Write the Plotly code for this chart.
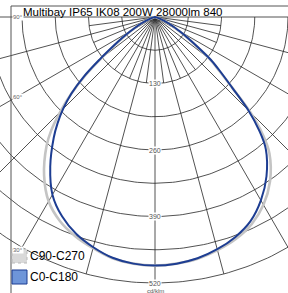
import numpy as np
import plotly.graph_objects as go

# ---- data (cd/klm) ----
angles = [0, 5, 10, 15, 20, 25, 30, 35, 40, 42.5, 45, 47.5, 50, 52.5, 55, 57.5, 60, 65, 70, 75, 80, 85, 90]
c0_right = [486, 484, 479, 470, 458, 441, 414, 380, 337, 302, 258, 205, 168, 138, 102, 76, 55, 30, 12, 3, 0, 0, 0]
c0_left = [486, 484, 478, 466, 451, 430, 401, 357, 308, 282, 254, 222, 182, 136, 100, 75, 55, 30, 12, 3, 0, 0, 0]
c90_right = [486, 484, 480, 472, 462, 447, 424, 392, 348, 312, 264, 205, 165, 134, 98, 73, 53, 29, 11, 3, 0, 0, 0]
c90_left = [486, 484, 479, 468, 456, 440, 416, 378, 330, 300, 262, 222, 178, 132, 96, 72, 53, 29, 11, 3, 0, 0, 0]
series_names = ["C90-C270", "C0-C180"]
ring_values = [65, 130, 195, 260, 325, 390, 455, 520]
ring_labels = ["130", "260", "390", "520"]
angle_labels = ["90°", "60°", "30°"]
title = "Multibay IP65 IK08 200W 28000lm 840"
unit = "cd/klm"

W, H = 288, 293
CX, CY = 155, 17          # pixel position of the pole
S = 266 / 520             # pixels per cd/klm


def curve(left, right):
    a = np.array([-x for x in angles[::-1]] + angles[1:], dtype=float)
    r = np.array(left[::-1] + right[1:], dtype=float)
    t = np.radians(a)
    return r * np.sin(t), -r * np.cos(t)


fig = go.Figure()
grid = dict(color="#262626", width=0.8)

# rings
th = np.radians(np.linspace(-90, 90, 181))
for rv in ring_values:
    fig.add_trace(go.Scatter(x=rv * np.sin(th), y=-rv * np.cos(th), mode="lines",
                             line=grid, hoverinfo="skip", showlegend=False))
# radial lines
rmax = ring_values[-1]
for a in range(-90, 91, 15):
    t = np.radians(a)
    fig.add_trace(go.Scatter(x=[0, rmax * np.sin(t)], y=[0, -rmax * np.cos(t)], mode="lines",
                             line=grid, hoverinfo="skip", showlegend=False))
for a in np.arange(-82.5, 83, 15):
    t = np.radians(a)
    fig.add_trace(go.Scatter(x=[0, 130 * np.sin(t)], y=[0, -130 * np.cos(t)], mode="lines",
                             line=grid, hoverinfo="skip", showlegend=False))

gx, gy = curve(c90_left, c90_right)
fig.add_trace(go.Scatter(x=gx, y=gy, mode="lines", line=dict(color="#c4c4c4", width=2.6, shape="spline"),
                         name=series_names[0], showlegend=False))
bx, by = curve(c0_left, c0_right)
fig.add_trace(go.Scatter(x=bx, y=by, mode="lines", line=dict(color="#1d3d92", width=2, shape="spline"),
                         name=series_names[1], showlegend=False))

ann = []
for lab in ring_labels:
    ann.append(dict(x=0, y=-float(lab), text=lab, showarrow=False, bgcolor="white",
                    font=dict(size=7, color="#555", family="Liberation Sans, Arial"), borderpad=0))
ann.append(dict(x=0, y=-536, text=unit, showarrow=False, bgcolor="white",
                font=dict(size=6, color="#555", family="Liberation Sans, Arial"), borderpad=0))
for lab, py in zip(angle_labels, [17, 97, 250]):
    ann.append(dict(xref="paper", yref="paper", x=12 / W, y=1 - py / H, xanchor="left", yanchor="middle",
                    text=lab, showarrow=False, bgcolor="white",
                    font=dict(size=6, color="#666", family="Liberation Sans, Arial"), borderpad=0))
ann.append(dict(xref="paper", yref="paper", x=21 / W, y=1 - 11.5 / H, xanchor="left", yanchor="middle",
                text=title, showarrow=False,
                font=dict(size=11.5, color="black", family="Liberation Sans, Arial")))
for name, py in zip(series_names, [256, 277]):
    ann.append(dict(xref="paper", yref="paper", x=28 / W, y=1 - py / H, xanchor="left", yanchor="middle",
                    text=name, showarrow=False,
                    font=dict(size=12, color="black", family="Liberation Sans, Arial")))

shapes = [
    dict(type="line", xref="paper", yref="paper", x0=11 / W, x1=1, y0=1 - 6 / H, y1=1 - 6 / H,
         line=dict(color="#555", width=1)),
    dict(type="line", xref="paper", yref="paper", x0=11 / W, x1=11 / W, y0=1 - 6 / H, y1=0,
         line=dict(color="#555", width=1)),
    dict(type="rect", xref="paper", yref="paper", x0=12 / W, x1=27 / W, y0=1 - 263 / H, y1=1 - 249 / H,
         fillcolor="#d9d9d9", line=dict(color="#b8b8b8", width=1, dash="dot")),
    dict(type="rect", xref="paper", yref="paper", x0=12 / W, x1=27 / W, y0=1 - 284 / H, y1=1 - 270 / H,
         fillcolor="#6e95d9", line=dict(color="#1d3d92", width=1)),
]

fig.update_layout(
    width=W, height=H, margin=dict(l=0, r=0, t=0, b=0),
    paper_bgcolor="white", plot_bgcolor="white",
    xaxis=dict(range=[-CX / S, (W - CX) / S], visible=False, fixedrange=True),
    yaxis=dict(range=[-(H - CY) / S, CY / S], visible=False, fixedrange=True),
    annotations=ann, shapes=shapes, showlegend=False,
)
fig.write_html("out.html", config={"displayModeBar": False},
               post_script="document.body.style.margin='0px';document.body.style.overflow='hidden';")
